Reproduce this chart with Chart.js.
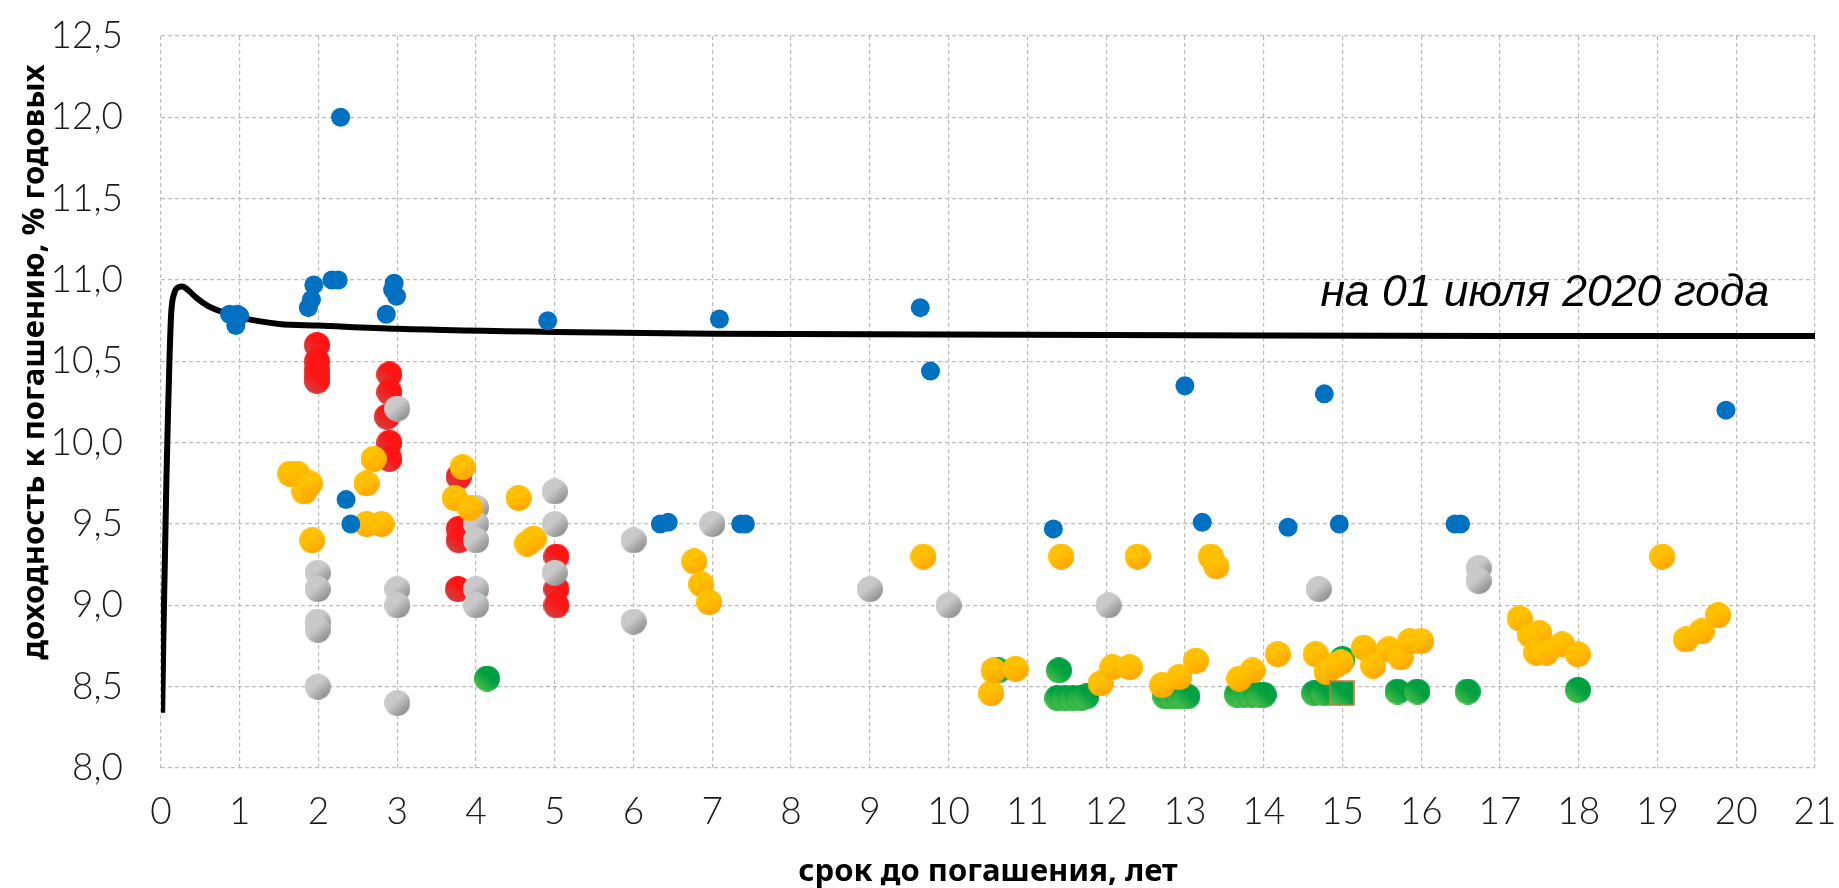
<!DOCTYPE html>
<html>
<head>
<meta charset="utf-8">
<script src="https://cdn.jsdelivr.net/npm/chart.js@4.4.1/dist/chart.umd.min.js"></script>
<style>
  html, body { margin: 0; padding: 0; background: #fff; }
  #wrap { width: 1839px; height: 888px; }
</style>
</head>
<body>
<div id="wrap"><canvas id="chart" width="1839" height="888"></canvas></div>
<script>
// кривая бескупонной доходности (G-curve)
const curveX = [0.015, 0.03, 0.05, 0.07, 0.09, 0.11, 0.13, 0.17, 0.22, 0.27, 0.34, 0.45, 0.6, 0.8, 1.0, 1.5, 2, 3, 5, 7, 10, 13, 17, 21];
const curveY = [8.34, 8.8, 9.3, 9.8, 10.2, 10.55, 10.8, 10.92, 10.955, 10.96, 10.94, 10.89, 10.84, 10.8, 10.77, 10.73, 10.72, 10.70, 10.68, 10.67, 10.665, 10.66, 10.655, 10.655];

const blueX = [0.87, 0.97, 0.95, 1.0, 1.87, 1.91, 1.94, 2.17, 2.25, 2.28, 2.35, 2.41, 2.86, 2.94, 2.96, 2.99, 4.91, 6.34, 6.44, 7.09, 7.36, 7.42, 9.64, 9.77, 11.33, 13.0, 13.22, 14.31, 14.77, 14.96, 16.43, 16.5, 19.87];
const blueY = [10.79, 10.79, 10.72, 10.78, 10.83, 10.88, 10.97, 11.0, 11.0, 12.0, 9.65, 9.5, 10.79, 10.94, 10.98, 10.9, 10.75, 9.5, 9.51, 10.76, 9.5, 9.5, 10.83, 10.44, 9.47, 10.35, 9.51, 9.48, 10.3, 9.5, 9.5, 9.5, 10.2];

const redX = [1.98, 1.98, 1.98, 1.98, 1.98, 2.9, 2.9, 2.87, 2.9, 2.9, 3.78, 3.78, 3.78, 3.77, 5.02, 5.02, 5.02];
const redY = [10.6, 10.5, 10.45, 10.41, 10.38, 10.42, 10.31, 10.16, 10.0, 9.9, 9.79, 9.47, 9.40, 9.1, 9.3, 9.1, 9.0];

const greyX = [1.99, 1.99, 1.99, 1.99, 1.99, 3.0, 3.0, 3.0, 3.0, 4.0, 4.0, 4.0, 4.0, 4.0, 5.0, 5.0, 5.0, 6.0, 6.0, 7.0, 9.0, 10.0, 12.03, 14.7, 16.73, 16.73];
const greyY = [9.2, 9.1, 8.9, 8.85, 8.5, 10.21, 9.1, 9.0, 8.4, 9.6, 9.5, 9.4, 9.1, 9.0, 9.7, 9.5, 9.2, 9.4, 8.9, 9.5, 9.1, 9.0, 9.0, 9.1, 9.23, 9.15];

const yellowX = [1.64, 1.73, 1.82, 1.89, 1.92, 2.61, 2.7, 2.61, 2.8, 3.73, 3.83, 3.92, 4.54, 4.65, 4.73, 6.77, 6.86, 6.96, 9.68, 10.54, 10.57, 10.85, 11.43, 11.93, 12.08, 12.3, 12.4, 12.71, 12.93, 13.14, 13.33, 13.4, 13.69, 13.86, 14.18, 14.66, 14.8, 14.9, 14.98, 15.27, 15.39, 15.59, 15.74, 15.86, 16.0, 17.25, 17.38, 17.5, 17.46, 17.59, 17.79, 17.99, 19.06, 19.36, 19.56, 19.77];
const yellowY = [9.81, 9.81, 9.7, 9.75, 9.4, 9.75, 9.9, 9.5, 9.5, 9.66, 9.85, 9.6, 9.66, 9.38, 9.41, 9.27, 9.13, 9.02, 9.3, 8.46, 8.6, 8.61, 9.3, 8.52, 8.62, 8.62, 9.3, 8.51, 8.56, 8.66, 9.3, 9.24, 8.55, 8.6, 8.7, 8.7, 8.59, 8.63, 8.65, 8.74, 8.63, 8.73, 8.68, 8.78, 8.78, 8.92, 8.82, 8.83, 8.71, 8.71, 8.76, 8.7, 9.3, 8.79, 8.84, 8.94];

const greenX = [4.14, 10.63, 11.4, 11.38, 11.48, 11.58, 11.68, 11.75, 12.75, 12.85, 12.95, 13.03, 13.66, 13.75, 13.85, 13.95, 14.0, 14.64, 14.77, 15.0, 15.7, 15.95, 16.59, 17.99];
const greenY = [8.55, 8.6, 8.6, 8.43, 8.43, 8.43, 8.43, 8.44, 8.44, 8.44, 8.44, 8.44, 8.45, 8.45, 8.45, 8.45, 8.45, 8.46, 8.46, 8.67, 8.47, 8.47, 8.47, 8.48];

const squareX = [14.99];
const squareY = [8.46];

const yTicks = [8, 8.5, 9, 9.5, 10, 10.5, 11, 11.5, 12, 12.5];
const xTitle = 'срок до погашения, лет';
const yTitle = 'доходность к погашению, % годовых';
const noteText = 'на 01 июля 2020 года';
const noteAt = [14.72, 10.84];

function pts(xs, ys) {
    return xs.map((x, i) => ({ x: x, y: ys[i] }));
}

// шарик с градиентом
function ball(c1, c2, d, dir, square) {
    const cv = document.createElement('canvas');
    cv.width = d; cv.height = d;
    const g = cv.getContext('2d');
    const grad = g.createLinearGradient(dir[0] * d, dir[1] * d, dir[2] * d, dir[3] * d);
    grad.addColorStop(0, c1);
    grad.addColorStop(0.4, c1);
    grad.addColorStop(1, c2);
    g.fillStyle = grad;
    if (square) {
        g.fillRect(1, 1, d - 2, d - 2);
        g.strokeStyle = '#c8783c';
        g.lineWidth = 1.5;
        g.strokeRect(1, 1, d - 2, d - 2);
    } else {
        g.beginPath();
        g.arc(d / 2, d / 2, d / 2, 0, Math.PI * 2);
        g.fill();
    }
    return cv;
}

const redBall = ball('#ff1414', '#c84848', 26, [0.85, 0.1, 0.1, 0.95]);
const greyBall = ball('#c9c9c9', '#858585', 26, [0.15, 0.1, 0.9, 0.95]);
const yellowBall = ball('#ffc000', '#ffa200', 26, [0.3, 0.0, 0.8, 1.0]);
const greenBall = ball('#00a040', '#55c24a', 26, [0.85, 0.1, 0.1, 0.95]);
const greenSquare = ball('#00a040', '#55c24a', 26, [0.85, 0.1, 0.1, 0.95], true);

const notePlugin = {
    id: 'note',
    afterDraw(chart) {
        const ctx = chart.ctx;
        const xs = chart.scales.x, ys = chart.scales.y;
        ctx.save();
        ctx.fillStyle = '#000';
        ctx.font = 'italic 44.5px "Liberation Sans"';
        ctx.textAlign = 'left';
        ctx.textBaseline = 'alphabetic';
        ctx.fillText(noteText, xs.getPixelForValue(noteAt[0]), ys.getPixelForValue(noteAt[1]));

        ctx.translate(35, 362);
        ctx.rotate(-Math.PI / 2);
        ctx.textAlign = 'center';
        ctx.textBaseline = 'middle';
        ctx.font = 'bold 31px "Noto Sans"';
        ctx.fillText(yTitle, 0, 0);
        ctx.restore();
    }
};

const tickFont = { family: 'Lato', size: 37, weight: '300' };
const gridCfg = { color: '#bdbdbd', lineWidth: 1.2, drawTicks: false };
const dash = { dash: [4, 3], display: false };

new Chart(document.getElementById('chart'), {
    type: 'scatter',
    data: {
        datasets: [
            { label: 'blue', data: pts(blueX, blueY), pointStyle: 'circle', pointRadius: 9.5, backgroundColor: '#0070c0', borderWidth: 0, order: 1 },
            { label: 'square', data: pts(squareX, squareY), pointStyle: greenSquare, pointRadius: 13, order: 2 },
            { label: 'yellow', data: pts(yellowX, yellowY), pointStyle: yellowBall, pointRadius: 13, order: 3 },
            { label: 'green', data: pts(greenX, greenY), pointStyle: greenBall, pointRadius: 13, order: 4 },
            { label: 'grey', data: pts(greyX, greyY), pointStyle: greyBall, pointRadius: 13, order: 5 },
            { label: 'red', data: pts(redX, redY), pointStyle: redBall, pointRadius: 13, order: 6 },
            { label: 'curve', data: pts(curveX, curveY), showLine: true, pointRadius: 0, borderColor: '#000', borderWidth: 6, cubicInterpolationMode: 'monotone', order: 7 }
        ]
    },
    options: {
        responsive: false,
        animation: false,
        layout: { padding: { top: 36, right: 24, left: 0, bottom: 0 } },
        plugins: { legend: { display: false }, tooltip: { enabled: false } },
        scales: {
            x: {
                type: 'linear', min: 0, max: 21,
                ticks: { stepSize: 1, font: tickFont, color: '#1a1a1a', padding: 22, maxRotation: 0 },
                grid: gridCfg,
                border: dash,
                title: { display: true, text: xTitle, color: '#000', font: { family: 'Noto Sans', size: 31, weight: 'bold', lineHeight: 1 }, padding: 0 },
                afterFit(s) { s.height = 120; s.paddingLeft = 0; s.paddingRight = 0; }
            },
            y: {
                type: 'linear', min: 8, max: 12.5,
                afterBuildTicks(s) { s.ticks = yTicks.map(v => ({ value: v })); },
                ticks: {
                    font: tickFont, color: '#1a1a1a', padding: 38,
                    callback: v => v.toFixed(1).replace('.', ',')
                },
                grid: gridCfg,
                border: dash,
                afterFit(s) { s.width = 161; s.paddingTop = 0; s.paddingBottom = 0; }
            }
        }
    },
    plugins: [notePlugin]
});
</script>
</body>
</html>
